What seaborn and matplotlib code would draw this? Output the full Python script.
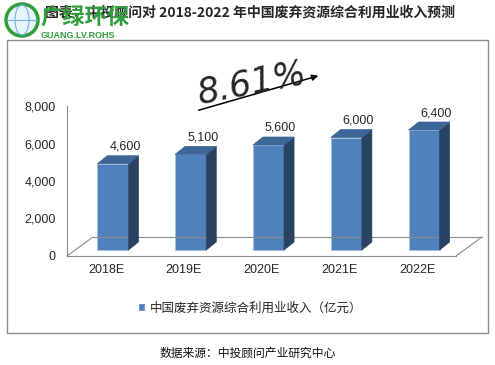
import numpy as np
import pandas as pd
import seaborn as sns
import matplotlib.pyplot as plt
from matplotlib.patches import Polygon, Rectangle, Circle, Ellipse, FancyArrowPatch
from matplotlib.transforms import ScaledTranslation, IdentityTransform
from matplotlib.lines import Line2D

# data
years = ["2018E", "2019E", "2020E", "2021E", "2022E"]
income = [4600, 5100, 5600, 6000, 6400]
yticks = [0, 2000, 4000, 6000, 8000]
series_name = "中国废弃资源综合利用业收入（亿元）"
cagr_text = "8.61%"
title = "图表：中投顾问对 2018-2022 年中国废弃资源综合利用业收入预测"
source = "数据来源：中投顾问产业研究中心"

sns.set_style("white")
plt.rcParams['font.family'] = ['Liberation Sans', 'Noto Sans CJK SC', 'DejaVu Sans']
CJK = ['Noto Sans CJK SC', 'DejaVu Sans']

W, H = 495, 365
fig = plt.figure(figsize=(W / 100, H / 100), dpi=100)
ax = fig.add_axes([67 / W, 1 - 256 / H, (456 - 67) / W, (256 - 106) / H])

front = "#4F81BD"
side = "#2A4262"
top = "#3C6696"
grey = "#8C8C8C"

df = pd.DataFrame({"year": years, "income": income})
sns.barplot(data=df, x="year", y="income", width=0.4, color=front, saturation=1,
            edgecolor="#A9C1E0", linewidth=0.6, ax=ax, zorder=3)
ax.set_xlim(-0.5, len(years) - 0.5)
ax.set_ylim(0, 8000)

# 3D look: shift the front faces and add side / top faces (pixel offsets)
dx0, dy0 = 7, 6      # front face shift
ddx, ddy = 10, 8     # bar depth
shift = ScaledTranslation(dx0 / 100, dy0 / 100, fig.dpi_scale_trans)
for p in ax.patches:
    p.set_transform(ax.transData + shift)
    p.set_clip_on(False)
    xl, yb = ax.transData.transform((p.get_x(), 0))
    xr, yt = ax.transData.transform((p.get_x() + p.get_width(), p.get_height()))
    xl, xr, yb, yt = xl + dx0, xr + dx0, yb + dy0, yt + dy0
    s = Polygon([(xr, yb), (xr + ddx, yb + ddy), (xr + ddx, yt + ddy), (xr, yt)],
                closed=True, fc=side, ec=side, lw=0.5, transform=IdentityTransform(), zorder=3)
    t = Polygon([(xl, yt), (xr, yt), (xr + ddx, yt + ddy), (xl + ddx, yt + ddy)],
                closed=True, fc=top, ec=top, lw=0.5, transform=IdentityTransform(), zorder=3)
    fig.add_artist(s)
    fig.add_artist(t)

# value labels
for i, v in enumerate(income):
    ax.annotate(f"{v:,}", xy=(i, v), xytext=(dx0 + 12, dy0 + ddy + 3),
                textcoords="offset pixels", ha="center", va="bottom", fontsize=9,
                annotation_clip=False)

# floor of the 3D plot
bb = ax.get_window_extent()
x0, y0, x1 = bb.x0, bb.y0, bb.x1
fx, fy = 26, 19
for xs, ys in [((x0, x0 + fx), (y0, y0 + fy)),
               ((x0 + fx, x1 + fx), (y0 + fy, y0 + fy)),
               ((x1 + fx, x1), (y0 + fy, y0))]:
    fig.add_artist(Line2D(xs, ys, color=grey, lw=0.8, transform=IdentityTransform(), zorder=1))

# axes styling
sns.despine(ax=ax, top=True, right=True)
for sp in ["left", "bottom"]:
    ax.spines[sp].set_color(grey)
    ax.spines[sp].set_linewidth(0.8)
ax.set_yticks(yticks)
ax.set_yticklabels([f"{t:,}" for t in yticks])
ax.tick_params(axis="y", direction="out", length=3, color=grey, pad=5, labelsize=9)
ax.set_xticks(np.arange(-0.5, len(years)), minor=True)
ax.tick_params(axis="x", which="major", length=0, pad=6, labelsize=9)
ax.tick_params(axis="x", which="minor", direction="out", length=3, color=grey)
ax.set_xlabel("")
ax.set_ylabel("")
ax.set_facecolor("none")

# frame of the chart area
fig.add_artist(Rectangle((7 / W, 1 - 333 / H), (488 - 7) / W, (333 - 40) / H,
                         transform=fig.transFigure, fill=False, ec=grey, lw=1))

# growth rate text and arrow
fig.text(252 / W, 1 - 83 / H, cagr_text, fontsize=25, fontstyle="oblique", rotation=11,
         ha="center", va="center", family=["DejaVu Sans"])
fig.add_artist(FancyArrowPatch((196 / W, 1 - 111 / H), (321 / W, 1 - 75 / H),
                               transform=fig.transFigure, arrowstyle="-|>",
                               mutation_scale=9, lw=1.1, color="black"))

# legend
fig.legend(handles=[Rectangle((0, 0), 1, 1, fc=front)], labels=[series_name],
           loc="center", bbox_to_anchor=(250 / W, 1 - 308 / H), frameon=False,
           handlelength=0.6, handleheight=0.6, handletextpad=0.4,
           prop={"family": CJK, "size": 9})

# title and source
fig.text(45 / W, 1 - 13 / H, title, fontsize=10, fontweight="bold", va="center",
         family=CJK)
fig.text(248 / W, 1 - 353 / H, source, fontsize=8.5, ha="center", va="center",
         family=CJK, color="#111111")

# watermark logo
green = "#2F9E3A"
fig.add_artist(Circle((22, H - 20), 16, transform=IdentityTransform(), fc="#E8F4FB",
                      ec=green, lw=2.5, zorder=5))
fig.add_artist(Ellipse((22, H - 20), 14, 30, transform=IdentityTransform(), fill=False,
                       ec="#6CB5E0", lw=0.8, zorder=5))
fig.add_artist(Line2D((7, 37), (H - 20, H - 20), color="#6CB5E0", lw=0.8,
                      transform=IdentityTransform(), zorder=5))
fig.text(40 / W, 1 - 17 / H, "广绿环保", fontsize=16, fontweight="bold", color=green,
         va="center", family=CJK, zorder=6)
fig.text(41 / W, 1 - 36 / H, "GUANG.LV.ROHS", fontsize=6.5, fontweight="bold",
         color=green, va="center", zorder=6)

fig.savefig("out.png", dpi=100)
